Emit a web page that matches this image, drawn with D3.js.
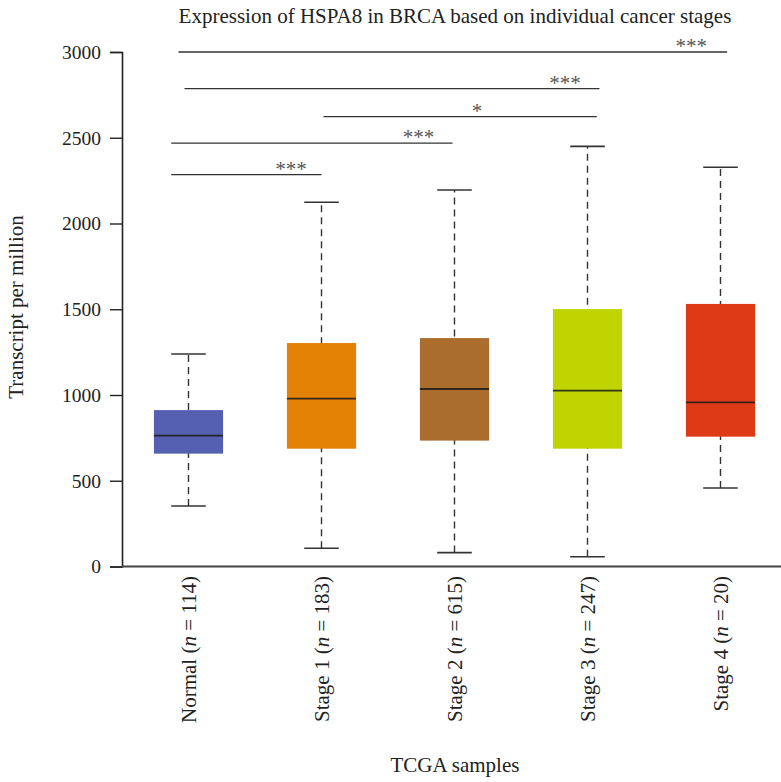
<!DOCTYPE html>
<html>
<head>
<meta charset="utf-8">
<script src="https://cdn.jsdelivr.net/npm/d3@7"></script>
<style>
  body { margin: 0; background: #fff; }
  text { font-family: "Liberation Serif", "Times New Roman", serif; fill: #222; }
</style>
</head>
<body>
<script>
// categories and box stats
var groups   = ["Normal", "Stage 1", "Stage 2", "Stage 3", "Stage 4"];
var counts   = [114, 183, 615, 247, 20];
var whiskLo  = [353, 106, 81, 57, 458];
var q1       = [658, 687, 734, 687, 757];
var medians  = [763, 979, 1035, 1025, 957];
var q3       = [912, 1303, 1332, 1501, 1531];
var whiskHi  = [1239, 2124, 2195, 2450, 2328];
var colors   = ["#5561b0", "#e48206", "#ab6d2e", "#bfd400", "#df3a17"];

// significance bars: start / end / label in group units, value level, stars
var sigFrom  = [-0.075, -0.03, 1.015, -0.13, -0.13];
var sigTo    = [4.05, 3.09, 3.07, 1.985, 1.0];
var sigAt    = [3.78, 2.83, 2.17, 1.73, 0.77];
var sigLevel = [3000, 2786, 2623, 2469, 2285];
var sigText  = ["***", "***", "*", "***", "***"];

var yTicks = [0, 500, 1000, 1500, 2000, 2500, 3000];

var W = 781, H = 782;
var svg = d3.select("body").append("svg")
  .attr("width", W).attr("height", H);

var x = d3.scaleBand().domain(groups)
  .range([122, 787])
  .paddingInner(0.48).paddingOuter(0.24);
var y = d3.scaleLinear().domain([0, 3000]).range([566.5, 52]);
var xc = d3.scaleLinear().domain([0, 4])
  .range([x(groups[0]) + x.bandwidth() / 2, x(groups[4]) + x.bandwidth() / 2]);

// title
svg.append("text")
  .attr("x", 455).attr("y", 23)
  .attr("text-anchor", "middle")
  .style("font-size", "21px")
  .text("Expression of HSPA8 in BRCA based on individual cancer stages");

// y axis
var yAxis = svg.append("g")
  .attr("transform", "translate(122,0)")
  .call(d3.axisLeft(y).tickValues(yTicks).tickSize(12).tickPadding(9).tickFormat(d3.format("d")));
yAxis.select(".domain").attr("stroke", "#222").attr("stroke-width", 1.6);
yAxis.selectAll(".tick line").attr("stroke", "#222").attr("stroke-width", 1.4);
yAxis.selectAll(".tick text")
  .style("font-size", "19.5px")
  .style("font-family", "'Liberation Serif', serif")
  .attr("fill", "#222");

// x axis line
svg.append("line")
  .attr("x1", 122).attr("x2", W)
  .attr("y1", y(0)).attr("y2", y(0))
  .attr("stroke", "#444").attr("stroke-width", 1.8);

// y label
svg.append("text")
  .attr("transform", "translate(23," + 307 + ") rotate(-90)")
  .attr("text-anchor", "middle")
  .style("font-size", "21px")
  .text("Transcript per million");

// x label
svg.append("text")
  .attr("x", 455).attr("y", 772)
  .attr("text-anchor", "middle")
  .style("font-size", "21px")
  .text("TCGA samples");

// category labels
var lab = svg.selectAll("text.cat").data(groups).enter().append("text")
  .attr("class", "cat")
  .attr("transform", function(d) {
    return "translate(" + (x(d) + x.bandwidth() / 2 + 7) + ",576) rotate(-90)";
  })
  .attr("text-anchor", "end")
  .style("font-size", "21px");
lab.append("tspan").text(function(d) { return d + " ("; });
lab.append("tspan").style("font-style", "italic").text("n");
lab.append("tspan").text(function(d, i) { return " = " + counts[i] + ")"; });

// boxes
var box = svg.selectAll("g.box").data(groups).enter().append("g")
  .attr("class", "box");

box.append("line")
  .attr("x1", function(d) { return x(d) + x.bandwidth() / 2; })
  .attr("x2", function(d) { return x(d) + x.bandwidth() / 2; })
  .attr("y1", function(d, i) { return y(whiskLo[i]); })
  .attr("y2", function(d, i) { return y(whiskHi[i]); })
  .attr("stroke", "#333").attr("stroke-width", 1.4)
  .attr("stroke-dasharray", "7,5");

[whiskLo, whiskHi].forEach(function(arr) {
  box.append("line")
    .attr("x1", function(d) { return x(d) + x.bandwidth() / 4; })
    .attr("x2", function(d) { return x(d) + x.bandwidth() * 3 / 4; })
    .attr("y1", function(d, i) { return y(arr[i]); })
    .attr("y2", function(d, i) { return y(arr[i]); })
    .attr("stroke", "#333").attr("stroke-width", 1.6);
});

box.append("rect")
  .attr("x", function(d) { return x(d); })
  .attr("width", x.bandwidth())
  .attr("y", function(d, i) { return y(q3[i]); })
  .attr("height", function(d, i) { return y(q1[i]) - y(q3[i]); })
  .attr("fill", function(d, i) { return colors[i]; });

box.append("line")
  .attr("x1", function(d) { return x(d); })
  .attr("x2", function(d) { return x(d) + x.bandwidth(); })
  .attr("y1", function(d, i) { return y(medians[i]); })
  .attr("y2", function(d, i) { return y(medians[i]); })
  .attr("stroke", "#1a1a1a").attr("stroke-opacity", 0.85).attr("stroke-width", 1.8);

// significance bars
var sig = svg.selectAll("g.sig").data(sigLevel).enter().append("g")
  .attr("class", "sig");
sig.append("line")
  .attr("x1", function(d, i) { return xc(sigFrom[i]); })
  .attr("x2", function(d, i) { return xc(sigTo[i]); })
  .attr("y1", function(d) { return y(d); })
  .attr("y2", function(d) { return y(d); })
  .attr("stroke", "#333").attr("stroke-width", 1.3);
sig.append("text")
  .attr("x", function(d, i) { return xc(sigAt[i]); })
  .attr("y", function(d) { return y(d) + 1; })
  .attr("text-anchor", "middle")
  .style("font-size", "21px")
  .style("fill", "#555")
  .text(function(d, i) { return sigText[i]; });
</script>
</body>
</html>
